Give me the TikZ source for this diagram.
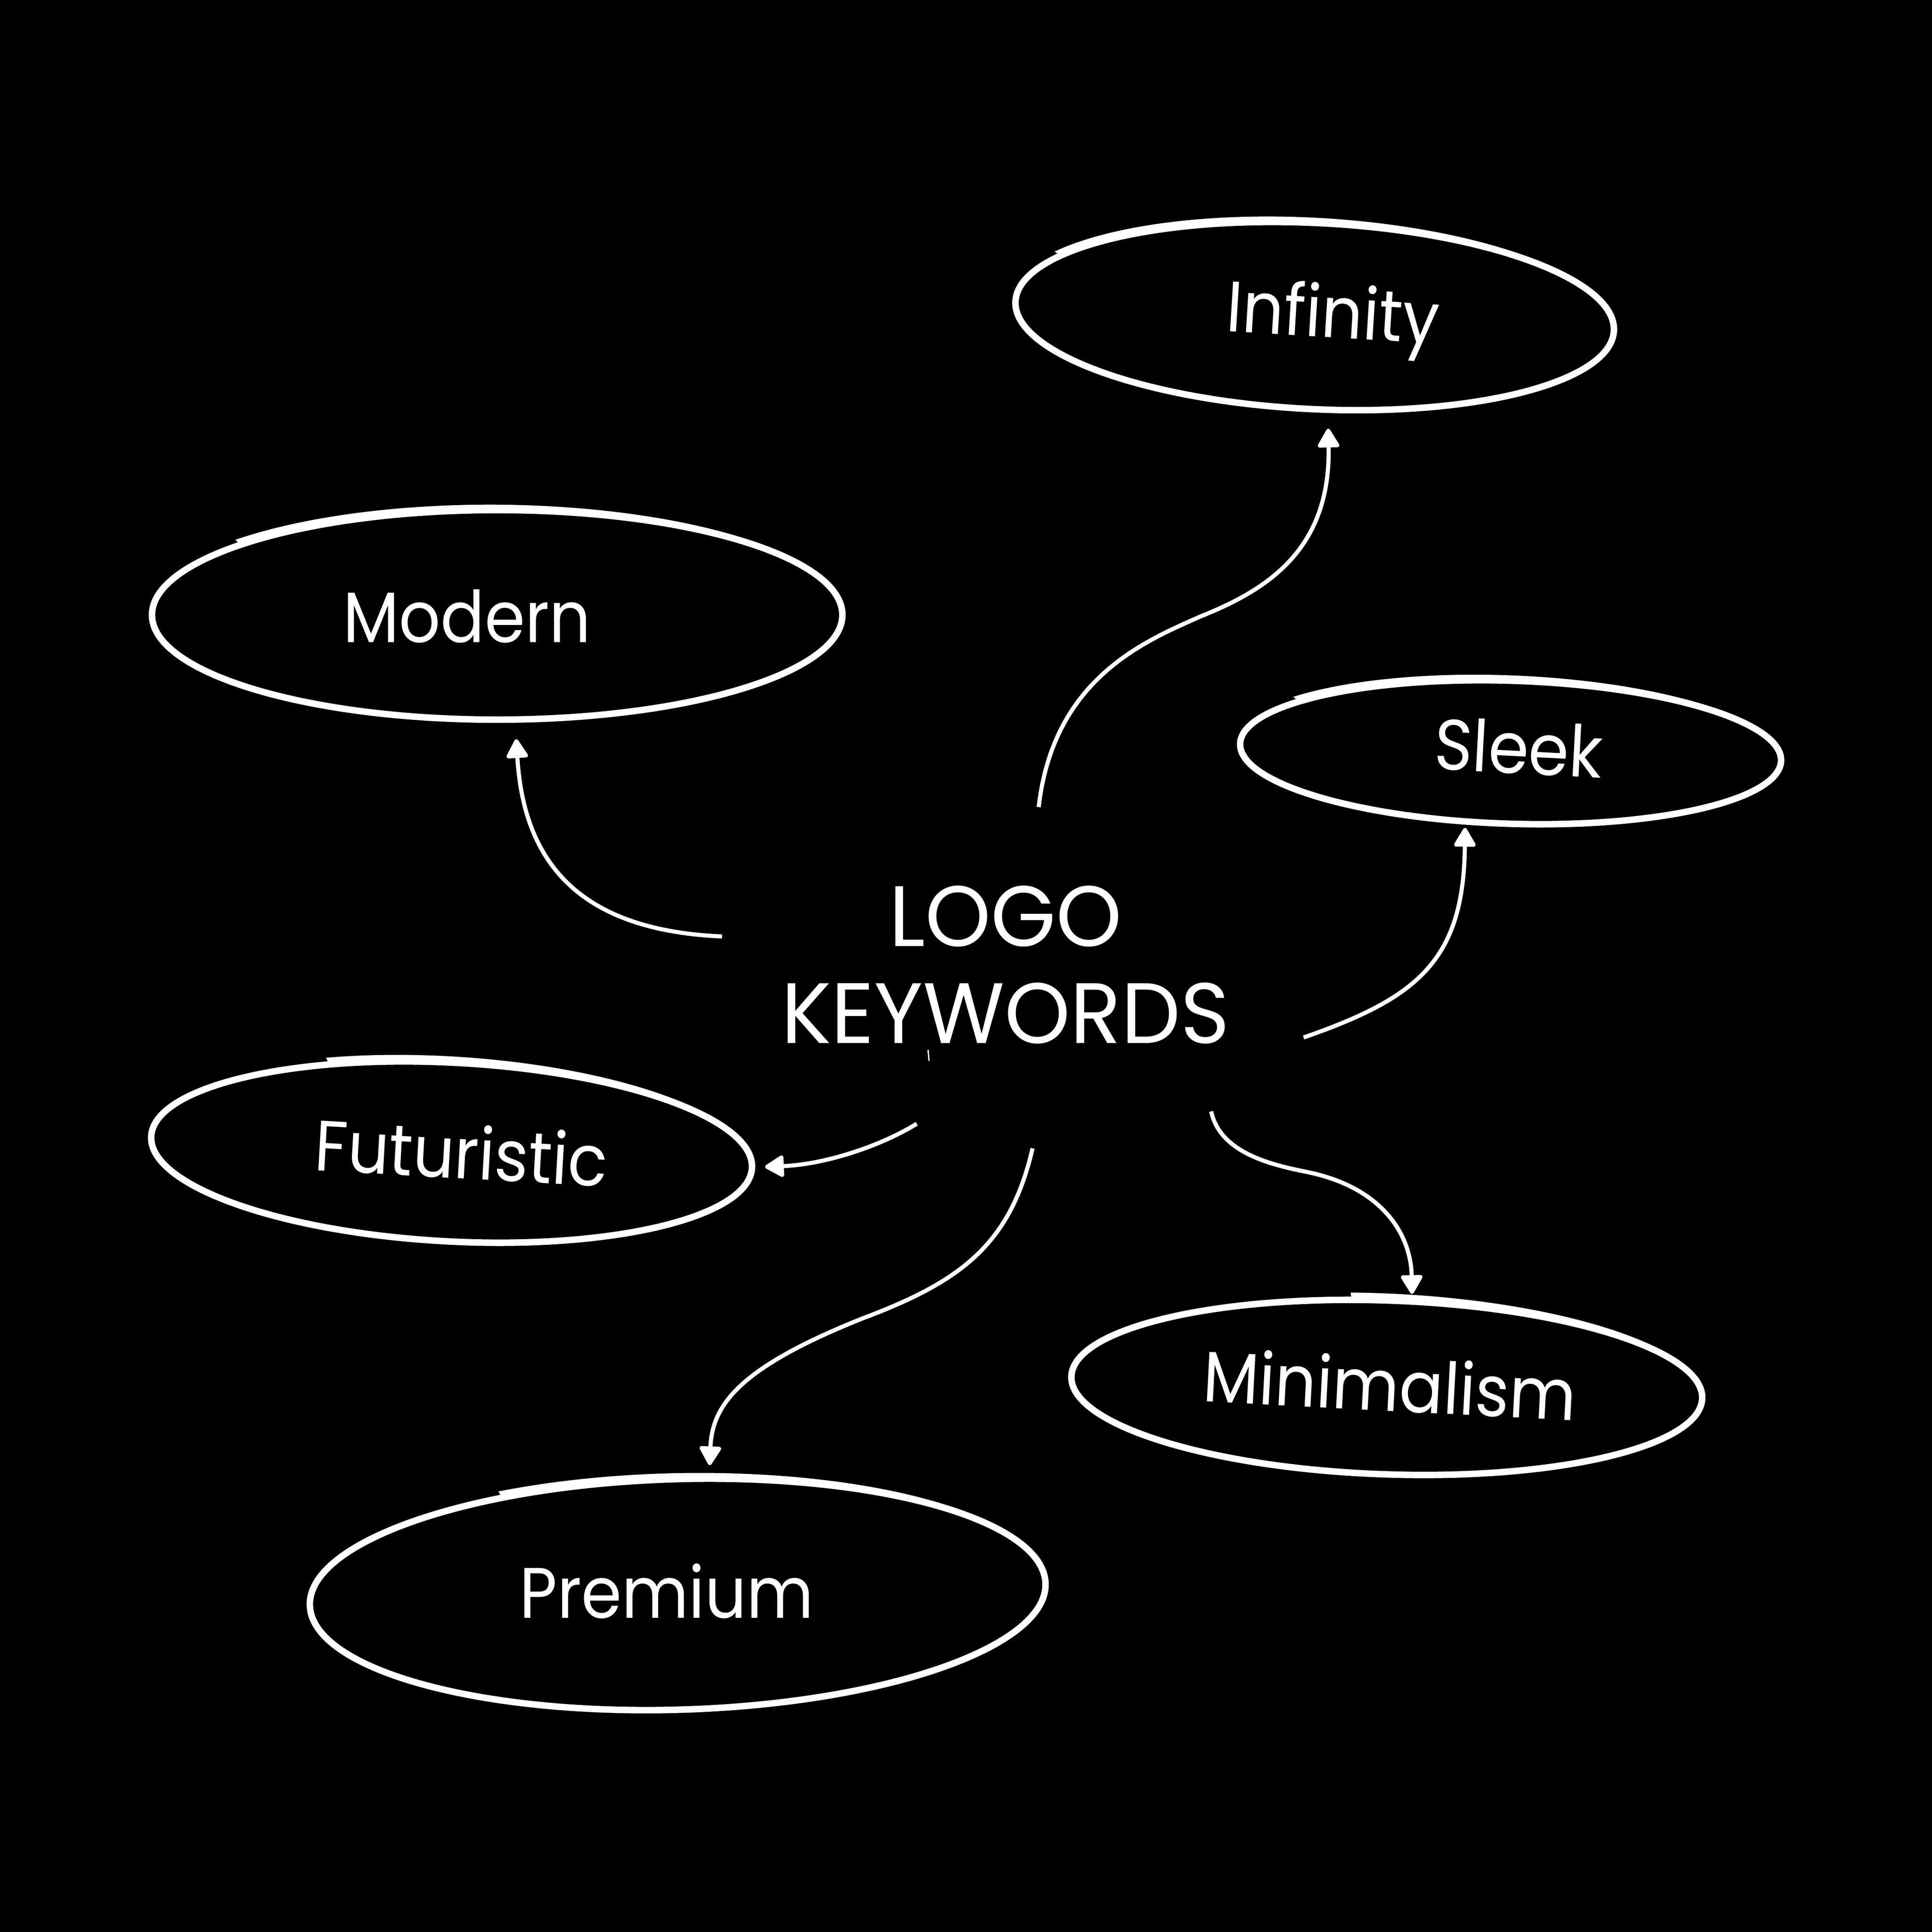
\documentclass[tikz,border=0pt]{standalone}
\usepackage{fontspec}
\setmainfont{Poppins}
\usetikzlibrary{shapes.geometric,arrows.meta}
\newcommand{\labtext}[1]{\scalebox{0.91}[1]{#1}}
% crescent that thickens the top of a hand-drawn ellipse: cx, cy, rotation, rx, ry, start angle, end angle
\newcommand{\handtop}[7]{%
  \begin{scope}[shift={(#1,#2)}, rotate=#3]
    \fill[white] plot[domain=#6:#7, samples=60, smooth] ({(#4+1.8+4.2*(#7-\x)/(#7-#6))*cos(\x)},{(#5+1.8+4.2*(#7-\x)/(#7-#6))*sin(\x)})
      -- plot[domain=#7:#6, samples=60, smooth] ({#4*cos(\x)},{#5*sin(\x)}) -- cycle;
  \end{scope}}
\begin{document}
\begin{tikzpicture}[x=0.01cm,y=-0.01cm,
  oval/.style={ellipse, draw=white, line width=1.5pt, inner sep=0pt},
  lbl/.style={text=white, inner sep=0pt, text height=11.5pt, text depth=0pt, font=\fontsize{16.5pt}{19pt}\selectfont},
  link/.style={draw=white, line width=0.95pt, -{Triangle[width=5.4pt,length=4.8pt,round]}}
]
\fill[black] (0,0) rectangle (1568,1568);
\useasboundingbox (0,0) rectangle (1568,1568);

% ellipses
\node[oval, minimum width=4.86cm, minimum height=1.51cm, rotate=-2.8] (inf) at (1067,256.5) {};
\node[oval, minimum width=5.60cm, minimum height=1.70cm] (mod) at (403.5,499) {};
\node[oval, minimum width=4.39cm, minimum height=1.16cm, rotate=-1.8] (slk) at (1226,610.5) {};
\node[oval, minimum width=4.88cm, minimum height=1.45cm, rotate=-3] (fut) at (366.5,935) {};
\node[oval, minimum width=5.12cm, minimum height=1.41cm, rotate=-2] (min) at (1125.5,1126) {};
\node[oval, minimum width=5.97cm, minimum height=1.87cm, rotate=1.7] (pre) at (550,1294) {};

% hand-drawn overlap strokes along the tops
\handtop{1067}{256.5}{-2.8}{243}{75.5}{211}{350}
\handtop{403.5}{499}{0}{280}{85}{222}{350}
\handtop{1226}{610.5}{-1.8}{219.5}{58}{218}{350}
\handtop{366.5}{935}{-3}{244}{72.5}{245}{350}
\handtop{1125.5}{1126}{-2}{256}{70.5}{263}{355}
\handtop{550}{1294}{1.7}{298.5}{93.5}{242}{350}

% labels
\node[lbl, rotate=-3.5] (tinf) at (1082,253.7) {\labtext{Infinity}};
\node[lbl] (tmod) at (379,501) {\labtext{Modern}};
\node[lbl, rotate=-3] (tslk) at (1232.5,607.5) {\labtext{Sleek}};
\node[lbl, rotate=-3.2] (tfut) at (374.5,936.2) {\labtext{Futuristic}};
\node[lbl, rotate=-3] (tmin) at (1128,1125) {\labtext{Minimalism}};
\node[lbl] (tpre) at (541,1292.8) {\labtext{Premium}};

% centre
\node[text=white, align=center, inner sep=0pt, font=\fontsize{19.8pt}{22.4pt}\selectfont] (title) at (816,783) {\scalebox{0.975}[1]{LOGO}\\\scalebox{0.975}[1]{KEYWORDS}};

% connector ends
\coordinate (sInf) at (843,655);   \coordinate (eInf) at (1078,348);
\coordinate (sMod) at (586,760);   \coordinate (eMod) at (419,600);
\coordinate (sSlk) at (1058,842);  \coordinate (eSlk) at (1189,672);
\coordinate (sFut) at (744,912);   \coordinate (eFut) at (621,947);
\coordinate (sPre) at (838,932);   \coordinate (ePre) at (576,1189);
\coordinate (sMin) at (983,902);   \coordinate (eMin) at (1146,1050);

\draw[link] (sInf) .. controls (855,550) and (930,520) .. (975,500) .. controls (1030,478) and (1080,445) .. (eInf);
\draw[link] (sMod) .. controls (470,755) and (425,700) .. (eMod);
\draw[link] (sSlk) .. controls (1150,810) and (1188,780) .. (eSlk);
\draw[link] (sFut) .. controls (715,930) and (670,945) .. (eFut);
\draw[link] (sPre) .. controls (820,1010) and (780,1040) .. (700,1070) .. controls (600,1110) and (578,1140) .. (ePre);
\draw[link] (sMin) .. controls (990,935) and (1030,945) .. (1060,951) .. controls (1120,963) and (1145,1000) .. (eMin);

% stray tick
\coordinate (tk1) at (753.2,852); \coordinate (tk2) at (754,861);
\draw[white, line width=0.3pt] (tk1) -- (tk2);
\end{tikzpicture}
\end{document}
